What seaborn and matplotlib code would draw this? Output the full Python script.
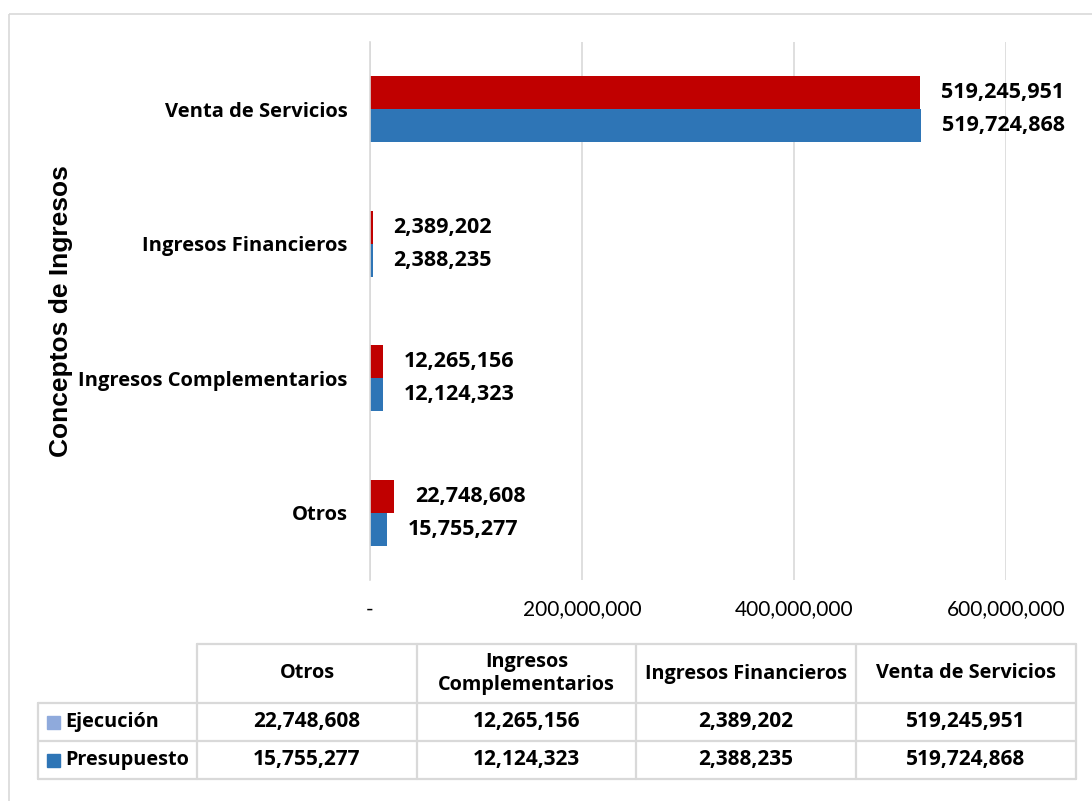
import matplotlib
matplotlib.use("Agg")
import matplotlib.pyplot as plt
import seaborn as sns
import pandas as pd
from matplotlib.patches import Rectangle
from matplotlib.ticker import FuncFormatter, MultipleLocator

# ---------------- data ----------------
categories = ["Venta de Servicios", "Ingresos Financieros", "Ingresos Complementarios", "Otros"]
ejecucion = [519245951, 2389202, 12265156, 22748608]
presupuesto = [519724868, 2388235, 12124323, 15755277]
series_names = ["Ejecución", "Presupuesto"]
table_cols = ["Otros", "Ingresos\nComplementarios", "Ingresos Financieros", "Venta de Servicios"]
table_order = ["Otros", "Ingresos Complementarios", "Ingresos Financieros", "Venta de Servicios"]
y_title = "Conceptos de Ingresos"

bar_colors = {"Ejecución": "#C00000", "Presupuesto": "#2E75B6"}
key_colors = {"Ejecución": "#8FAADC", "Presupuesto": "#2E75B6"}

df = pd.DataFrame({
    "Concepto": categories * 2,
    "Serie": [series_names[0]] * len(categories) + [series_names[1]] * len(categories),
    "Valor": ejecucion + presupuesto,
})

sns.set_theme(style="white")
plt.rcParams["font.family"] = ["Lato", "DejaVu Sans"]
plt.rcParams["text.color"] = "black"
plt.rcParams["axes.labelcolor"] = "black"
plt.rcParams["xtick.color"] = "black"
plt.rcParams["ytick.color"] = "black"
BOLD = ["Open Sans", "DejaVu Sans"]

W, H = 1092, 801
fig = plt.figure(figsize=(W / 100, H / 100), dpi=100)

# outer frame
frame_ax = fig.add_axes([0, 0, 1, 1], zorder=-5)
frame_ax.set_xlim(0, W)
frame_ax.set_ylim(H, 0)
frame_ax.axis("off")
frame_ax.add_patch(Rectangle((9, 14), 1100, 800, fill=False, edgecolor="#D9D9D9", lw=1.2))

# main chart
ax_l, ax_r, ax_t, ax_b = 370, 1006, 42, 580
ax = fig.add_axes([ax_l / W, 1 - ax_b / H, (ax_r - ax_l) / W, (ax_b - ax_t) / H])
sns.barplot(data=df, y="Concepto", x="Valor", hue="Serie", order=categories,
            hue_order=series_names, palette=bar_colors, orient="h", width=0.49,
            saturation=1, linewidth=0, ax=ax, legend=False)

ax.set_xlim(0, 600_000_000)
ax.set_ylim(3.5, -0.5)
ax.xaxis.set_major_locator(MultipleLocator(200_000_000))
ax.xaxis.set_major_formatter(FuncFormatter(lambda v, p: "-" if v == 0 else f"{v:,.0f}"))
ax.grid(axis="x", color="#D9D9D9", lw=1.2)
ax.set_axisbelow(True)
for s in ["top", "right", "bottom"]:
    ax.spines[s].set_visible(False)
ax.spines["left"].set_color("#D9D9D9")
ax.spines["left"].set_linewidth(1.2)
ax.tick_params(axis="x", length=0, pad=14, labelsize=15, labelcolor="#000000")
ax.tick_params(axis="y", length=0, pad=16, labelsize=14.5, labelcolor="#000000")
for lbl in ax.get_yticklabels():
    lbl.set_fontweight("bold")
    lbl.set_family(BOLD)
ax.set_xlabel("")
ax.set_ylabel(y_title, fontsize=19, fontweight="bold", family="Liberation Sans", color="black")
ax.yaxis.set_label_coords((73 - ax_l) / (ax_r - ax_l), (ax_b - 311) / (ax_b - ax_t))

for cont in ax.containers:
    ax.bar_label(cont, labels=[f"{v:,.0f}" for v in cont.datavalues], padding=15,
                 fontsize=15.5, fontweight="bold", family=BOLD, color="#000000")

# data table
tab = fig.add_axes([0, 0, 1, 1], zorder=-1)
tab.set_xlim(0, W)
tab.set_ylim(H, 0)
tab.axis("off")
col_x = [38, 197, 417, 636, 856, 1076]
row_y = [644, 703, 741, 779]
gc = "#D9D9D9"
glw = 1.6
tab.plot([col_x[1], col_x[-1]], [row_y[0]] * 2, color=gc, lw=glw)
for yy in row_y[1:]:
    tab.plot([col_x[0], col_x[-1]], [yy] * 2, color=gc, lw=glw)
tab.plot([col_x[0]] * 2, [row_y[1], row_y[-1]], color=gc, lw=glw)
for xx in col_x[1:]:
    tab.plot([xx] * 2, [row_y[0], row_y[-1]], color=gc, lw=glw)

fs_head = 14.3
fs_num = 15
for i, name in enumerate(table_cols):
    cx = (col_x[i + 1] + col_x[i + 2]) / 2
    tab.text(cx, (row_y[0] + row_y[1]) / 2, name, ha="center", va="center",
             fontsize=fs_head, fontweight="bold", family=BOLD, linespacing=1.2)

vals = {"Ejecución": dict(zip(categories, ejecucion)),
        "Presupuesto": dict(zip(categories, presupuesto))}
for r, sname in enumerate(series_names):
    cy = (row_y[r + 1] + row_y[r + 2]) / 2
    tab.add_patch(Rectangle((47, cy - 6.5), 13, 13, color=key_colors[sname]))
    tab.text(65, cy, sname, ha="left", va="center", fontsize=fs_head, fontweight="bold", family=BOLD)
    for i, cat in enumerate(table_order):
        cx = (col_x[i + 1] + col_x[i + 2]) / 2
        tab.text(cx, cy, f"{vals[sname][cat]:,.0f}", ha="center", va="center",
                 fontsize=fs_num, fontweight="bold", family=BOLD)

fig.savefig("out.png", dpi=100)
